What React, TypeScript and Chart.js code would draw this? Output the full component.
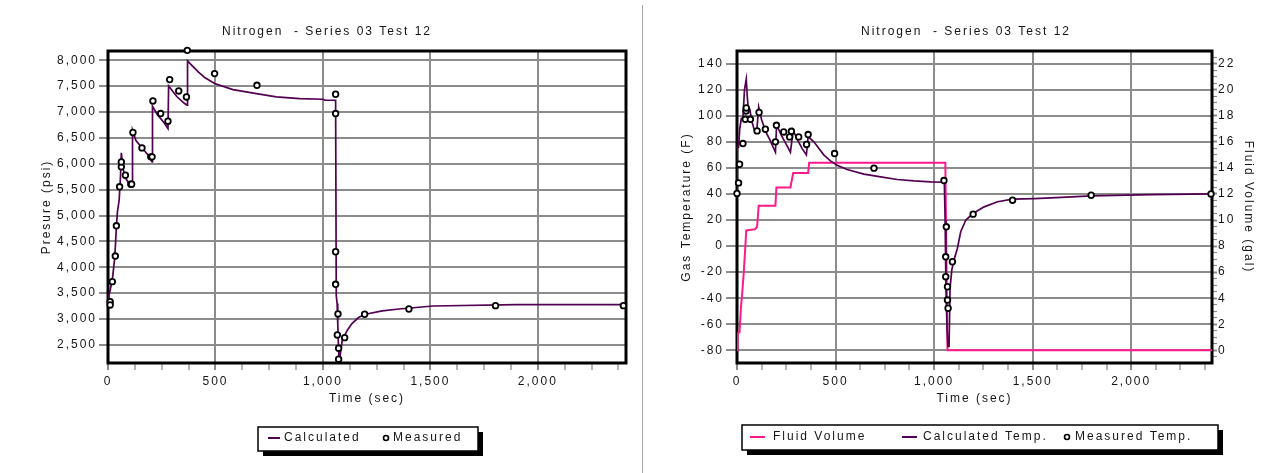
import React, { useEffect, useRef } from 'react';
import { Chart, registerables } from 'chart.js';

Chart.register(...registerables);

const FONT = '"Liberation Sans", Arial, sans-serif';
const TEXT = '#151515';
const GRID = '#8c8c8c';
const PURPLE = '#520052';
const PINK = '#ff1a8c';
const SPACING = '2px';

const chartTitle = 'Nitrogen  - Series 03 Test 12';
const timeTickLabels = [0, 500, 1000, 1500, 2000];
const timeMinorStep = 125;
const pressureTickValues = [2500, 3000, 3500, 4000, 4500, 5000, 5500, 6000, 6500, 7000, 7500, 8000];
const tempTickValues = [-80, -60, -40, -20, 0, 20, 40, 60, 80, 100, 120, 140];
const volumeTickLabels = [0, 2, 4, 6, 8, 10, 12, 14, 16, 18, 20, 22];
const volumeMinorStep = 0.5;

// Left chart: pressure
const calcPressureTime = [3, 5, 12, 20, 31, 35, 39, 44, 52, 58, 62, 70, 85, 105, 112, 114, 130, 160, 190, 205, 207, 230, 260, 279, 282, 320, 355, 368, 370, 390, 420, 450, 496, 581, 691, 783, 892, 1000, 1010, 1059, 1062, 1066, 1069, 1072, 1075, 1080, 1090, 1114, 1136, 1167, 1198, 1276, 1354, 1512, 1900, 2410];
const calcPressure = [3350, 3465, 3600, 3754, 4173, 4462, 4783, 5072, 5300, 5750, 6211, 5900, 5700, 5580, 5580, 6650, 6450, 6300, 6150, 6037, 7112, 6950, 6800, 6682, 7504, 7300, 7170, 7132, 7990, 7903, 7775, 7666, 7550, 7434, 7357, 7292, 7261, 7247, 7228, 7228, 3450, 3300, 2900, 2500, 2210, 2300, 2596, 2789, 2918, 3034, 3092, 3156, 3194, 3252, 3277, 3277];
const measPressureTime = [10, 10, 20, 34, 39, 54, 62, 62, 81, 106, 110, 116, 158, 199, 205, 209, 245, 279, 287, 329, 365, 369, 496, 693, 1059, 1059, 1059, 1059, 1070, 1067, 1101, 1073, 1073, 1194, 1400, 1803, 2398];
const measPressure = [3335, 3272, 3722, 4217, 4802, 5555, 5941, 6037, 5780, 5607, 5607, 6605, 6307, 6134, 6134, 7215, 6971, 6823, 7627, 7408, 7292, 8193, 7743, 7517, 7344, 6971, 4300, 3671, 3098, 2692, 2640, 2436, 2223, 3092, 3194, 3258, 3258];

// Right chart: temperature and fluid volume
const calcTempTime = [0, 1, 8, 14, 22, 30, 38, 47, 52, 57, 65, 75, 88, 100, 110, 125, 145, 165, 180, 195, 200, 207, 225, 250, 271, 285, 305, 330, 352, 361, 390, 415, 440, 474, 508, 559, 644, 729, 813, 898, 983, 1050, 1052, 1056, 1060, 1065, 1070, 1076, 1081, 1090, 1101, 1118, 1135, 1161, 1198, 1254, 1322, 1398, 1508, 1593, 1800, 2100, 2410];
const calcTemp = [40, 76, 76, 90, 98, 98, 120, 128, 115, 106, 105, 96, 89, 87.6, 106.7, 97, 88, 82, 77, 72, 90, 91, 85, 78, 72, 89, 82, 75, 70, 84, 80, 75, 70, 65.4, 62.1, 58.8, 55.2, 53.1, 51.1, 50, 49.3, 49, 48.8, 20, -30, -60, -77, -77, -32, -18, -10.7, -1.8, 11, 20, 25, 30.1, 34, 36, 36.5, 37, 38.5, 39.5, 40];
const measTempTime = [0, 8, 13, 30, 42, 46, 47, 68, 102, 112, 144, 195, 200, 237, 267, 276, 313, 353, 361, 495, 695, 1050, 1062, 1059, 1093, 1059, 1068, 1068, 1071, 1198, 1398, 1797, 2405];
const measTemp = [40.4, 48.5, 62.8, 78.7, 97.3, 103.7, 106, 97.3, 88.4, 102.5, 89.7, 80, 92.7, 87.6, 83.8, 88.1, 83.8, 78, 85.6, 71, 59.8, 50.3, 14.8, -8.2, -12, -23.5, -31.2, -41.4, -47.7, 24.5, 35.2, 39, 40];
const fluidTime = [0, 3, 13, 20, 25, 34, 42, 47, 93, 102, 110, 195, 200, 271, 285, 361, 366, 1057, 1068, 2410];
const fluidVolume = [0, 1.3, 1.4, 3.3, 4.1, 5.9, 7.9, 9.2, 9.3, 9.5, 11.1, 11.1, 12.5, 12.5, 13.6, 13.6, 14.4, 14.4, 0, 0];

const zip = (xs: number[], ys: number[]) => xs.map((x, i) => ({ x, y: ys[i] }));
const font = { family: FONT, size: 12 };

type LegendItem = { kind: 'line' | 'point'; color?: string; x1: number; x2?: number; textX: number; text: string };
type DecorCfg = { titleX: number; box: [number, number, number, number]; legendY: number; items: LegendItem[] };

function decorPlugin(cfg: DecorCfg) {
  return {
    id: 'decor',
    beforeUpdate(chart: any) {
      chart.ctx.letterSpacing = SPACING;
    },
    beforeDraw(chart: any) {
      const ctx = chart.ctx;
      ctx.letterSpacing = SPACING;
      ctx.save();
      ctx.fillStyle = '#fff';
      ctx.fillRect(0, 0, chart.width, chart.height);
      ctx.restore();
    },
    beforeDatasetsDraw(chart: any) {
      const ctx = chart.ctx;
      const { left, top, right, bottom } = chart.chartArea;
      ctx.save();
      ctx.strokeStyle = '#000';
      ctx.lineWidth = 3;
      ctx.strokeRect(left, top, right - left, bottom - top);
      ctx.restore();
    },
    afterDraw(chart: any) {
      const ctx = chart.ctx;
      ctx.save();
      ctx.letterSpacing = SPACING;
      ctx.font = `12px ${FONT}`;
      ctx.fillStyle = TEXT;
      ctx.textAlign = 'center';
      ctx.textBaseline = 'middle';
      ctx.fillText(chartTitle, cfg.titleX, 32);
      const [bx, by, bw, bh] = cfg.box;
      ctx.fillStyle = '#000';
      ctx.fillRect(bx + 5, by + 5, bw, bh);
      ctx.fillStyle = '#fff';
      ctx.fillRect(bx, by, bw, bh);
      ctx.strokeStyle = '#000';
      ctx.lineWidth = 1.5;
      ctx.strokeRect(bx, by, bw, bh);
      ctx.textAlign = 'left';
      for (const it of cfg.items) {
        if (it.kind === 'line') {
          ctx.strokeStyle = it.color || '#000';
          ctx.lineWidth = 2;
          ctx.beginPath();
          ctx.moveTo(it.x1, cfg.legendY);
          ctx.lineTo(it.x2 || it.x1, cfg.legendY);
          ctx.stroke();
        } else {
          ctx.beginPath();
          ctx.arc(it.x1, cfg.legendY, 2.5, 0, Math.PI * 2);
          ctx.fillStyle = '#fff';
          ctx.fill();
          ctx.strokeStyle = '#000';
          ctx.lineWidth = 1.6;
          ctx.stroke();
        }
        ctx.fillStyle = TEXT;
        ctx.fillText(it.text, it.textX, cfg.legendY);
      }
      ctx.restore();
    },
  };
}

function timeScale() {
  return {
    type: 'linear',
    position: 'bottom',
    min: 0,
    max: 2410,
    afterFit: (s: any) => {
      s.height = 50;
    },
    border: { display: false },
    grid: {
      color: (c: any) => (c.tick && c.tick.value !== 0 && timeTickLabels.includes(c.tick.value) ? GRID : 'rgba(0,0,0,0)'),
      lineWidth: 2,
      tickColor: GRID,
      tickWidth: (c: any) => (c.tick && timeTickLabels.includes(c.tick.value) ? 2 : 1.3),
      tickLength: 7,
    },
    ticks: {
      stepSize: timeMinorStep,
      autoSkip: false,
      maxRotation: 0,
      includeBounds: false,
      padding: 4,
      color: TEXT,
      font,
      callback: (v: number) => (timeTickLabels.includes(v) ? v.toLocaleString('en-US') : ''),
    },
    title: { display: true, text: 'Time (sec)', color: TEXT, font, padding: { top: 0, bottom: 7 } },
  };
}

const measuredStyle = {
  showLine: false,
  pointRadius: 2.8,
  pointBorderWidth: 1.8,
  pointBorderColor: '#000',
  pointBackgroundColor: '#fff',
  clip: false as any,
};

function pressureConfig(): any {
  return {
    type: 'scatter',
    data: {
      datasets: [
        { label: 'Measured', data: zip(measPressureTime, measPressure), order: 0, ...measuredStyle },
        { label: 'Calculated', data: zip(calcPressureTime, calcPressure), order: 1, showLine: true, pointRadius: 0, borderColor: PURPLE, borderWidth: 1.7, tension: 0 },
      ],
    },
    options: {
      animation: false,
      responsive: false,
      devicePixelRatio: 1,
      events: [],
      layout: { padding: { top: 51, right: 14, bottom: 60, left: 0 }, autoPadding: false },
      plugins: { legend: { display: false }, tooltip: { enabled: false }, title: { display: false } },
      scales: {
        x: timeScale(),
        y: {
          type: 'linear',
          position: 'left',
          min: 2150,
          max: 8180,
          afterBuildTicks: (s: any) => {
            s.ticks = pressureTickValues.map((value) => ({ value }));
          },
          afterFit: (s: any) => {
            s.width = 108;
          },
          border: { display: false },
          grid: { color: GRID, lineWidth: 2, tickColor: GRID, tickLength: 9 },
          ticks: { padding: 2, color: TEXT, font, callback: (v: number) => v.toLocaleString('en-US') },
          title: { display: true, text: 'Presure (psi)', color: TEXT, font, padding: { top: 39, bottom: 0 } },
        },
      },
    },
    plugins: [
      decorPlugin({
        titleX: 327,
        box: [258, 427, 220, 24],
        legendY: 438,
        items: [
          { kind: 'line', color: PURPLE, x1: 268, x2: 280, textX: 284, text: 'Calculated' },
          { kind: 'point', x1: 386, textX: 393, text: 'Measured' },
        ],
      }),
    ],
  };
}

function tempConfig(): any {
  const tMin = -89.7;
  const tMax = 149.7;
  return {
    type: 'scatter',
    data: {
      datasets: [
        { label: 'Measured Temp.', data: zip(measTempTime, measTemp), yAxisID: 'y', order: 0, ...measuredStyle },
        { label: 'Calculated Temp.', data: zip(calcTempTime, calcTemp), yAxisID: 'y', order: 1, showLine: true, pointRadius: 0, borderColor: PURPLE, borderWidth: 1.7, tension: 0 },
        { label: 'Fluid Volume', data: zip(fluidTime, fluidVolume), yAxisID: 'y2', order: 2, showLine: true, pointRadius: 0, borderColor: PINK, borderWidth: 2, tension: 0 },
      ],
    },
    options: {
      animation: false,
      responsive: false,
      devicePixelRatio: 1,
      events: [],
      layout: { padding: { top: 51, right: 0, bottom: 60, left: 0 }, autoPadding: false },
      plugins: { legend: { display: false }, tooltip: { enabled: false }, title: { display: false } },
      scales: {
        x: timeScale(),
        y: {
          type: 'linear',
          position: 'left',
          min: tMin,
          max: tMax,
          afterBuildTicks: (s: any) => {
            s.ticks = tempTickValues.map((value) => ({ value }));
          },
          afterFit: (s: any) => {
            s.width = 92;
          },
          border: { display: false },
          grid: { color: GRID, lineWidth: 2, tickColor: GRID, tickLength: 11 },
          ticks: { padding: 2, color: TEXT, font },
          title: { display: true, text: 'Gas Temperature (F)', color: TEXT, font, padding: { top: 34, bottom: 0 } },
        },
        y2: {
          type: 'linear',
          position: 'right',
          min: (tMin + 80) / 10,
          max: (tMax + 80) / 10,
          afterFit: (s: any) => {
            s.width = 66;
          },
          border: { display: false },
          grid: {
            drawOnChartArea: false,
            tickColor: GRID,
            tickWidth: (c: any) => (c.tick && volumeTickLabels.includes(c.tick.value) ? 2 : 1.2),
            tickLength: 5,
          },
          ticks: {
            stepSize: volumeMinorStep,
            autoSkip: false,
            includeBounds: false,
            padding: 1,
            color: TEXT,
            font,
            callback: (v: number) => (volumeTickLabels.includes(v) ? String(v) : ''),
          },
          title: { display: true, text: 'Fluid Volume (gal)', color: TEXT, font, padding: { top: 22, bottom: 0 } },
        },
      },
    },
    plugins: [
      decorPlugin({
        titleX: 321,
        box: [97, 425, 476, 25],
        legendY: 437,
        items: [
          { kind: 'line', color: PINK, x1: 105, x2: 120, textX: 128, text: 'Fluid Volume' },
          { kind: 'line', color: PURPLE, x1: 257, x2: 272, textX: 278, text: 'Calculated Temp.' },
          { kind: 'point', x1: 422, textX: 430, text: 'Measured Temp.' },
        ],
      }),
    ],
  };
}

function ChartCanvas({ width, height, make }: { width: number; height: number; make: () => any }) {
  const ref = useRef<HTMLCanvasElement | null>(null);
  useEffect(() => {
    if (!ref.current) return;
    const chart = new Chart(ref.current, make());
    return () => chart.destroy();
  }, []);
  return <canvas ref={ref} width={width} height={height} style={{ display: 'block', width, height }} />;
}

export default function App() {
  return (
    <div style={{ position: 'absolute', left: 0, top: 0, width: 1278, height: 473, background: '#fff', overflow: 'hidden' }}>
      <div style={{ position: 'absolute', left: 0, top: 0 }}>
        <ChartCanvas width={640} height={473} make={pressureConfig} />
      </div>
      <div style={{ position: 'absolute', left: 642, top: 5, width: 1, height: 468, background: '#a8a8a8' }} />
      <div style={{ position: 'absolute', left: 645, top: 0 }}>
        <ChartCanvas width={633} height={473} make={tempConfig} />
      </div>
    </div>
  );
}
